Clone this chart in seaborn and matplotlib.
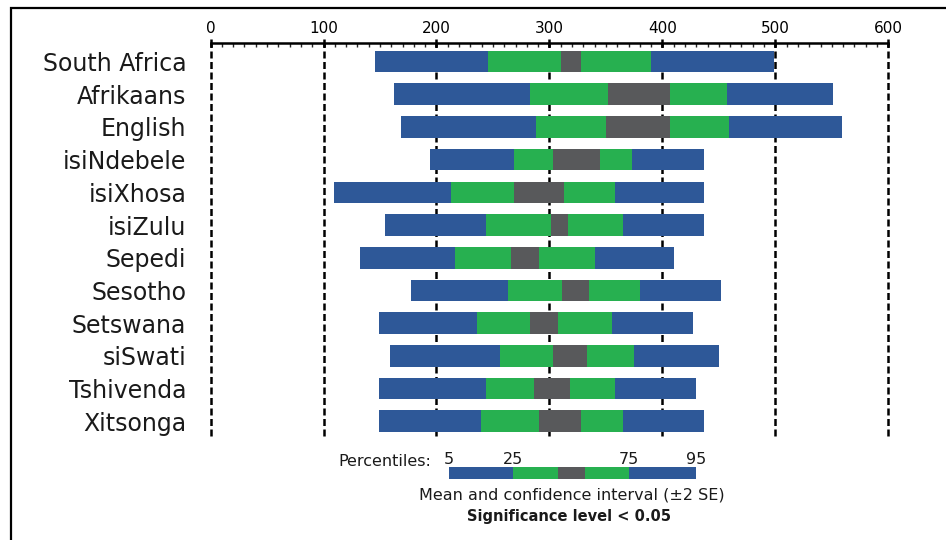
import matplotlib
matplotlib.use("Agg")
import numpy as np
import pandas as pd
import seaborn as sns
import matplotlib.pyplot as plt
from matplotlib.ticker import MultipleLocator
from matplotlib.patches import Rectangle

# ---------------- data ----------------
categories = ["South Africa", "Afrikaans", "English", "isiNdebele", "isiXhosa",
              "isiZulu", "Sepedi", "Sesotho", "Setswana", "siSwati",
              "Tshivenda", "Xitsonga"]
p5 = [146, 162, 169, 194, 109, 154, 132, 177, 149, 159, 149, 149]
p25 = [246, 283, 288, 269, 213, 244, 216, 263, 236, 256, 244, 239]
ci_low = [310, 352, 350, 303, 269, 301, 266, 311, 283, 303, 286, 291]
ci_high = [328, 407, 407, 345, 313, 316, 291, 335, 308, 333, 318, 328]
p75 = [390, 457, 459, 373, 358, 365, 340, 380, 355, 375, 358, 365]
p95 = [499, 551, 559, 437, 437, 437, 410, 452, 427, 450, 430, 437]

x_ticks = [0, 100, 200, 300, 400, 500, 600]
legend_key = [211, 268, 308, 332, 371, 430]
legend_pct_labels = ["5", "25", "", "", "75", "95"]

BLUE = "#2E5898"
GREEN = "#27B050"
GREY = "#58595B"

sns.set_style("white")
plt.rcParams["font.family"] = ["DejaVu Sans"]

fig = plt.figure(figsize=(9.46, 5.40), dpi=100)
ax = fig.add_axes([0.2226, 0.1926, 0.7164, 0.7284])

segments = [
    (p5, p25, BLUE),
    (p25, ci_low, GREEN),
    (ci_low, ci_high, GREY),
    (ci_high, p75, GREEN),
    (p75, p95, BLUE),
]

for starts, ends, col in segments:
    df = pd.DataFrame({"cat": categories, "end": ends})
    sns.barplot(data=df, x="end", y="cat", orient="h", order=categories,
                color=col, saturation=1, width=0.66, errorbar=None,
                linewidth=0, ax=ax)
    cont = ax.containers[-1]
    for patch, s, e in zip(cont, starts, ends):
        patch.set_x(s)
        patch.set_width(e - s)

ax.set_xlim(0, 600)
ax.set_ylim(11.45, -0.575)
ax.set_xlabel("")
ax.set_ylabel("")

ax.xaxis.tick_top()
ax.set_xticks(x_ticks)
ax.xaxis.set_minor_locator(MultipleLocator(10))
ax.tick_params(axis="x", which="major", direction="inout", length=6, width=1.8,
               labelsize=11, pad=2, colors="black")
ax.tick_params(axis="x", which="minor", direction="in", length=3, width=1,
               top=True, bottom=False)
ax.tick_params(axis="y", length=0, labelsize=17, pad=17.5, labelcolor="#1a1a1a")

for side in ["left", "right", "bottom"]:
    ax.spines[side].set_visible(False)
ax.spines["top"].set_linewidth(1.8)
ax.spines["top"].set_color("black")

ax.grid(axis="x", which="major", color="black", linewidth=1.8,
        linestyle=(0, (2.8, 1.4)))
ax.grid(axis="y", visible=False)
ax.set_axisbelow(True)
for gl in ax.get_xgridlines():
    gl.set_clip_on(False)

# ---------------- legend ----------------
lax = fig.add_axes([449 / 946, 1 - 479.3 / 540, (695.7 - 449) / 946, 12 / 540])
leg_cols = [BLUE, GREEN, GREY, GREEN, BLUE]
for i, col in enumerate(leg_cols):
    lax.barh([0], [legend_key[i + 1] - legend_key[i]], left=legend_key[i],
             height=1.0, color=col, linewidth=0)
lax.set_xlim(legend_key[0], legend_key[-1])
lax.set_ylim(-0.5, 0.5)
lax.axis("off")
for v, lab in zip(legend_key, legend_pct_labels):
    if lab:
        lax.text(v, 1.05, lab, transform=lax.get_xaxis_transform(),
                 ha="center", va="bottom", fontsize=11.5, color="#1a1a1a")

fig.text(431.7 / 946, 1 - 461.7 / 540, "Percentiles:", ha="right", va="center",
         fontsize=11.5, color="#1a1a1a")
fig.text(571.7 / 946, 1 - 495 / 540, "Mean and confidence interval (\u00b12 SE)",
         ha="center", va="center", fontsize=11.5, color="#1a1a1a")
fig.text(569 / 946, 1 - 517 / 540, "Significance level < 0.05",
         ha="center", va="center", fontsize=10.5, fontweight="bold",
         color="#1a1a1a")

# outer frame
frame = Rectangle((11 / 946, -0.2), 1.2, 1.2 - 8 / 540 + 0.0,
                  transform=fig.transFigure, fill=False, edgecolor="black",
                  linewidth=1.6, clip_on=False)
fig.patches.append(frame)

fig.savefig("out.png", dpi=100)
